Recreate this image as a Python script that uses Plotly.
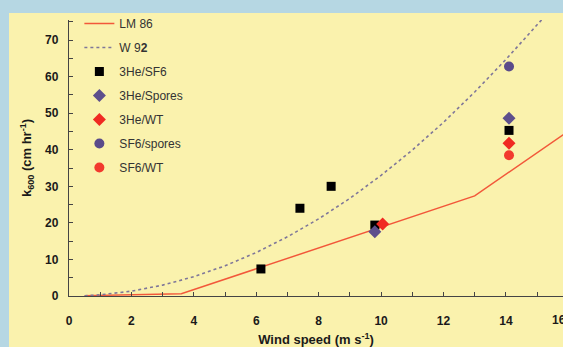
import plotly.graph_objects as go

# ---- data ----
lm86_u = [0.5, 3.6, 13.0, 16.0]
lm86_k = [0.1, 0.6, 27.4, 45.1]

w92_u = [0.5, 1, 2, 3, 4, 5, 6, 7, 8, 9, 10, 11, 12, 13, 14, 15, 15.15]
w92_k = [0.08, 0.33, 1.32, 2.97, 5.28, 8.25, 11.9, 16.2, 21.1, 26.7, 33.0, 39.9, 47.5, 55.8, 64.7, 74.3, 75.6]

he_sf6_u = [6.15, 7.4, 8.4, 9.8, 14.1]
he_sf6_k = [7.4, 24.0, 30.0, 19.4, 45.3]

he_spores_u = [9.8, 14.1]
he_spores_k = [17.6, 48.6]

he_wt_u = [10.05, 14.1]
he_wt_k = [19.7, 41.8]

sf6_spores_u = [14.1]
sf6_spores_k = [62.8]

sf6_wt_u = [14.1]
sf6_wt_k = [38.5]

x_ticks = [0, 2, 4, 6, 8, 10, 12, 14, 16]
y_ticks = [0, 10, 20, 30, 40, 50, 60, 70]

# ---- styling ----
BLUE = "#b6d7e3"
YELLOW = "#faf2ad"
W, H = 563, 347
L, R, T, B = 69, 0, 20, 51
XMAX = 15.83
YMAX = 75.5

fig = go.Figure()
grp = 0
def add(tr):
    global grp
    grp += 1
    tr.legendgroup = "g%d" % grp
    fig.add_trace(tr)

add(go.Scatter(x=lm86_u, y=lm86_k, mode="lines", name="LM 86",
               line=dict(color="#f2583a", width=1.5)))
add(go.Scatter(x=w92_u, y=w92_k, mode="lines", name="W 9<b>2</b>",
               line=dict(color="#7f7799", width=1.6, dash="dot")))
add(go.Scatter(x=he_sf6_u, y=he_sf6_k, mode="markers", name="3He/SF6",
               marker=dict(symbol="square", size=9, color="#000000")))
add(go.Scatter(x=he_spores_u, y=he_spores_k, mode="markers", name="3He/Spores",
               marker=dict(symbol="diamond", size=10, color="#5d4f8c")))
add(go.Scatter(x=he_wt_u, y=he_wt_k, mode="markers", name="3He/WT",
               marker=dict(symbol="diamond", size=10, color="#f02a22")))
add(go.Scatter(x=sf6_spores_u, y=sf6_spores_k, mode="markers", name="SF6/spores",
               marker=dict(symbol="circle", size=10, color="#5a4b8a")))
add(go.Scatter(x=sf6_wt_u, y=sf6_wt_k, mode="markers", name="SF6/WT",
               marker=dict(symbol="circle", size=10, color="#f23a2e")))

pw = W - L - R
ph = H - T - B

fig.add_shape(type="rect", xref="paper", yref="paper", layer="below",
              x0=(9 - L) / pw, x1=1.01, y0=-(B + 5) / ph, y1=1 + (T - 13) / ph,
              fillcolor=YELLOW, line=dict(width=0))

FONT = "Liberation Sans, Arial, sans-serif"

fig.update_layout(
    width=W, height=H,
    margin=dict(l=L, r=R, t=T, b=B, autoexpand=False),
    paper_bgcolor=BLUE,
    plot_bgcolor="rgba(0,0,0,0)",
    font=dict(family=FONT, size=12, color="#333333"),
    showlegend=True,
    legend=dict(x=0.021, y=1 + 11 / ph, xanchor="left", yanchor="top",
                bgcolor="rgba(0,0,0,0)", tracegroupgap=5,
                traceorder="grouped",
                font=dict(family=FONT, size=12, color="#333333")),
    xaxis=dict(range=[0, XMAX], tickvals=x_ticks, ticktext=[str(v) for v in x_ticks],
               automargin=False,
               ticks="inside", ticklen=4, tickcolor="#444",
               minor=dict(dtick=1, ticks="inside", ticklen=4, tickcolor="#444"),
               showline=True, linecolor="#444", linewidth=1.3, showgrid=False, zeroline=False,
               tickfont=dict(family=FONT, size=12, color="#1a1a1a", weight="bold"),
               ticklabelstandoff=13,
               title=dict(text="<b>Wind speed (m s<sup>-1</sup>)</b>", standoff=18,
                          font=dict(family=FONT, size=13, color="#1a1a1a"))),
    yaxis=dict(range=[0, YMAX], tickvals=y_ticks, ticktext=[str(v) for v in y_ticks],
               automargin=False,
               ticks="inside", ticklen=4, tickcolor="#444",
               minor=dict(dtick=5, ticks="inside", ticklen=4, tickcolor="#444"),
               showline=True, linecolor="#444", linewidth=1.3, showgrid=False, zeroline=False,
               tickfont=dict(family=FONT, size=12, color="#1a1a1a", weight="bold"),
               ticklabelstandoff=7,
               title=dict(text="<b>k<sub>600</sub> (cm hr<sup>-1</sup>)</b>", standoff=10,
                          font=dict(family=FONT, size=13, color="#1a1a1a"))),
)

# partially visible "16" label at the right edge
fig.add_annotation(text="<b>16</b>", xref="paper", yref="paper",
                   x=16 / XMAX, y=0, yanchor="top", yshift=-15, showarrow=False,
                   font=dict(family=FONT, size=12, color="#1a1a1a"))

fig.write_html("out.html", config={"displayModeBar": False},
               post_script="document.body.style.margin='0';document.body.style.overflow='hidden';")
